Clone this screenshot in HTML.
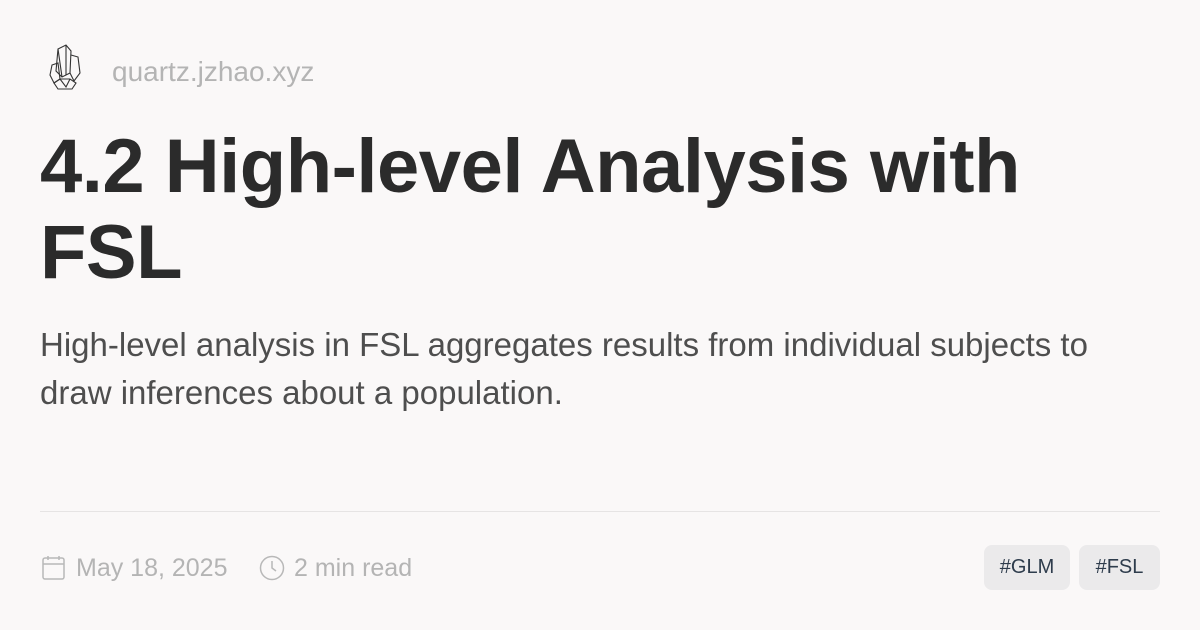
<!DOCTYPE html>
<html><head><meta charset="utf-8">
<style>
html,body{margin:0;padding:0}
body{width:1200px;height:630px;background:#faf8f8;font-family:"Liberation Sans",sans-serif;position:relative;overflow:hidden}
.abs{position:absolute}
#site{left:112px;top:52px;font-size:28px;color:#b4b4b4;line-height:40px}
#title{left:40px;top:124px;font-size:76px;font-weight:bold;color:#2b2b2b;line-height:86px;letter-spacing:-0.5px;width:1120px;margin:0}
#desc{left:40px;top:321px;font-size:33px;color:#4e4e4e;line-height:48px;width:1120px;margin:0}
#rule{left:40px;top:511px;width:1120px;height:1px;background:#e6e4e4}
.meta{top:550px;font-size:25px;color:#b4b4b4;line-height:36px}
.tag{top:545px;height:45px;background:#ebeaeb;border-radius:8px;color:#2e3c4c;font-size:20px;line-height:45px;text-align:center}
</style></head><body>
<svg class="abs" style="left:46px;top:43px" width="40" height="50" viewBox="0 0 40 50" fill="none" stroke="#333" stroke-width="1.1">
<path d="M12 6 L20 2 L25 8 L24 30 L16 34 L10 28 Z"/><path d="M25 12 L32 14 L34 30 L28 38 L24 30"/><path d="M6 22 L12 20 L14 36 L8 40 L4 32 Z"/><path d="M8 40 L14 36 L24 36 L30 40 L26 46 L12 46 Z"/><path d="M12 6 L16 34 M20 2 L20 32 M14 36 L20 44 L24 36"/>
</svg>
<div class="abs" id="site">quartz.jzhao.xyz</div>
<h1 class="abs" id="title">4.2 High-level Analysis with FSL</h1>
<p class="abs" id="desc">High-level analysis in FSL aggregates results from individual subjects to draw inferences about a population.</p>
<div class="abs" id="rule"></div>
<svg class="abs" style="left:42px;top:555px" width="24" height="26" viewBox="0 0 24 26" fill="none" stroke="#b8b8b8" stroke-width="1.5"><rect x="1" y="3" width="21" height="21" rx="2"/><path d="M1 9 H22 M6 1 V5 M17 1 V5"/></svg>
<div class="abs meta" style="left:76px">May 18, 2025</div>
<svg class="abs" style="left:259px;top:555px" width="26" height="26" viewBox="0 0 26 26" fill="none" stroke="#b8b8b8" stroke-width="1.5"><circle cx="13" cy="13" r="11.5"/><path d="M13 6 V13 L17 16"/></svg>
<div class="abs meta" style="left:294px">2 min read</div>
<div class="abs tag" style="left:984px;width:86px">#GLM</div>
<div class="abs tag" style="left:1079px;width:81px">#FSL</div>
</body></html>
